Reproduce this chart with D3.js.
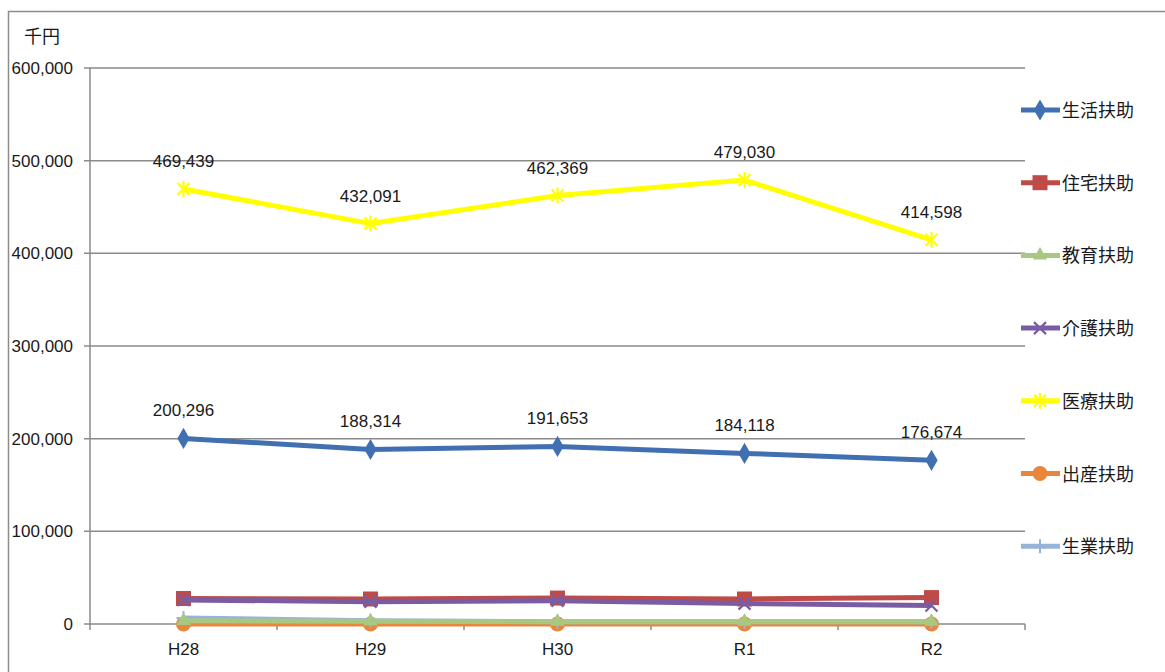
<!DOCTYPE html>
<html><head><meta charset="utf-8">
<script src="https://cdn.jsdelivr.net/npm/d3@7"></script>
<style>
body{margin:0;background:#fff;}
text{font-family:"Liberation Sans","Noto Sans CJK JP",sans-serif;fill:#1a1a1a;}
</style></head>
<body><svg id="c" width="1165" height="672"></svg>
<script>
const years = ["H28","H29","H30","R1","R2"];
const seriesNames = ["生活扶助","住宅扶助","教育扶助","介護扶助","医療扶助","出産扶助","生業扶助"];
const seriesColors = ["#4070b2","#bf4b48","#a8c882","#7a5ca2","#ffff00","#e8863c","#97b3da"];
const seriesMarkers = ["diamond","square","triangle","x","star","circle","plus"];
const livelihood = [200296,188314,191653,184118,176674];
const housing = [27500,27000,28000,27000,28500];
const education = [3500,3000,2500,2500,2500];
const nursing = [26000,24000,25000,22000,20000];
const medical = [469439,432091,462369,479030,414598];
const birth = [0,0,0,0,0];
const occupation = [6500,3500,2500,2500,2500];
const labelled = [true,false,false,false,true,false,false];
const yTicks = [0,100000,200000,300000,400000,500000,600000];

const values = [livelihood,housing,education,nursing,medical,birth,occupation];
const svg = d3.select("#c");
const plotL=90,plotR=1025,plotT=68,plotB=624;

svg.append("rect").attr("x",8.5).attr("y",11.5).attr("width",1170).attr("height",680)
  .attr("fill","none").attr("stroke","#8c8c8c").attr("stroke-width",1.5);

const x = d3.scalePoint().domain(years).range([plotL,plotR]).padding(0.5);
const xb = d3.scaleBand().domain(years).range([plotL,plotR]);
const y = d3.scaleLinear().domain([0,600000]).range([plotB,plotT]);

// gridlines
svg.append("g").selectAll("line").data(yTicks).join("line")
  .attr("x1",plotL-6).attr("x2",plotR).attr("y1",d=>y(d)).attr("y2",d=>y(d))
  .attr("stroke","#8a8a8a").attr("stroke-width",1.5);
svg.append("line").attr("x1",plotL).attr("x2",plotL).attr("y1",plotT).attr("y2",plotB)
  .attr("stroke","#8a8a8a").attr("stroke-width",1.5);
// x ticks
svg.append("g").selectAll("line").data(years.concat(["end"])).join("line")
  .attr("x1",(d,i)=>plotL+i*xb.bandwidth()).attr("x2",(d,i)=>plotL+i*xb.bandwidth())
  .attr("y1",plotB).attr("y2",plotB+6).attr("stroke","#8a8a8a").attr("stroke-width",1.5);

svg.append("g").selectAll("text").data(yTicks).join("text")
  .attr("x",73).attr("y",d=>y(d)+6).attr("text-anchor","end").attr("font-size",17)
  .text(d=>d3.format(",")(d));
svg.append("g").selectAll("text").data(years).join("text")
  .attr("x",d=>x(d)).attr("y",plotB+31).attr("text-anchor","middle").attr("font-size",17)
  .text(d=>d);
svg.append("text").attr("x",24).attr("y",43).attr("font-size",18)
  .attr("font-family","Noto Sans CJK JP").text("千円");

function marker(g,type,color,cx,cy){
  if(type==="diamond"){g.append("path").attr("d",d3.symbol(d3.symbolDiamond,130)()).attr("transform",`translate(${cx},${cy})`).attr("fill",color);}
  else if(type==="square"){g.append("rect").attr("x",cx-7.5).attr("y",cy-7.5).attr("width",15).attr("height",15).attr("fill",color);}
  else if(type==="triangle"){g.append("path").attr("d",d3.symbol(d3.symbolTriangle,90)()).attr("transform",`translate(${cx},${cy})`).attr("fill",color);}
  else if(type==="circle"){g.append("circle").attr("cx",cx).attr("cy",cy).attr("r",7.5).attr("fill",color);}
  else if(type==="x"){g.append("path").attr("d",`M${cx-6},${cy-6}L${cx+6},${cy+6}M${cx-6},${cy+6}L${cx+6},${cy-6}`).attr("stroke",color).attr("stroke-width",2.2);}
  else if(type==="star"){g.append("path").attr("d",`M${cx-6},${cy-6}L${cx+6},${cy+6}M${cx-6},${cy+6}L${cx+6},${cy-6}M${cx},${cy-8}L${cx},${cy+8}`).attr("stroke",color).attr("stroke-width",2.2);}
  else if(type==="plus"){g.append("path").attr("d",`M${cx},${cy-7}L${cx},${cy+7}M${cx-7},${cy}L${cx+7},${cy}`).attr("stroke",color).attr("stroke-width",2);}
}

const line = d3.line().x((d,i)=>x(years[i])).y(d=>y(d));
// series painted bottom-up so the larger ones sit on top
const order=[5,6,2,1,3,0,4];
order.forEach(si=>{
  const g=svg.append("g");
  g.append("path").datum(values[si]).attr("d",line).attr("fill","none")
    .attr("stroke",seriesColors[si]).attr("stroke-width",5).attr("stroke-linejoin","round");
  values[si].forEach((v,i)=>marker(g,seriesMarkers[si],seriesColors[si],x(years[i]),y(v)));
  if(labelled[si]){
    g.selectAll("text.lbl").data(values[si]).join("text").attr("class","lbl")
      .attr("x",(d,i)=>x(years[i])).attr("y",d=>y(d)-22).attr("text-anchor","middle")
      .attr("font-size",17).text(d=>d3.format(",")(d));
  }
});

// legend
const lg=svg.append("g");
seriesNames.forEach((n,i)=>{
  const ly=110+i*72.7;
  lg.append("line").attr("x1",1021).attr("x2",1060).attr("y1",ly).attr("y2",ly)
    .attr("stroke",seriesColors[i]).attr("stroke-width",5);
  marker(lg,seriesMarkers[i],seriesColors[i],1040,ly);
  lg.append("text").attr("x",1062).attr("y",ly+7).attr("font-size",18)
    .attr("font-family","Noto Sans CJK JP").text(n);
});
</script></body></html>
